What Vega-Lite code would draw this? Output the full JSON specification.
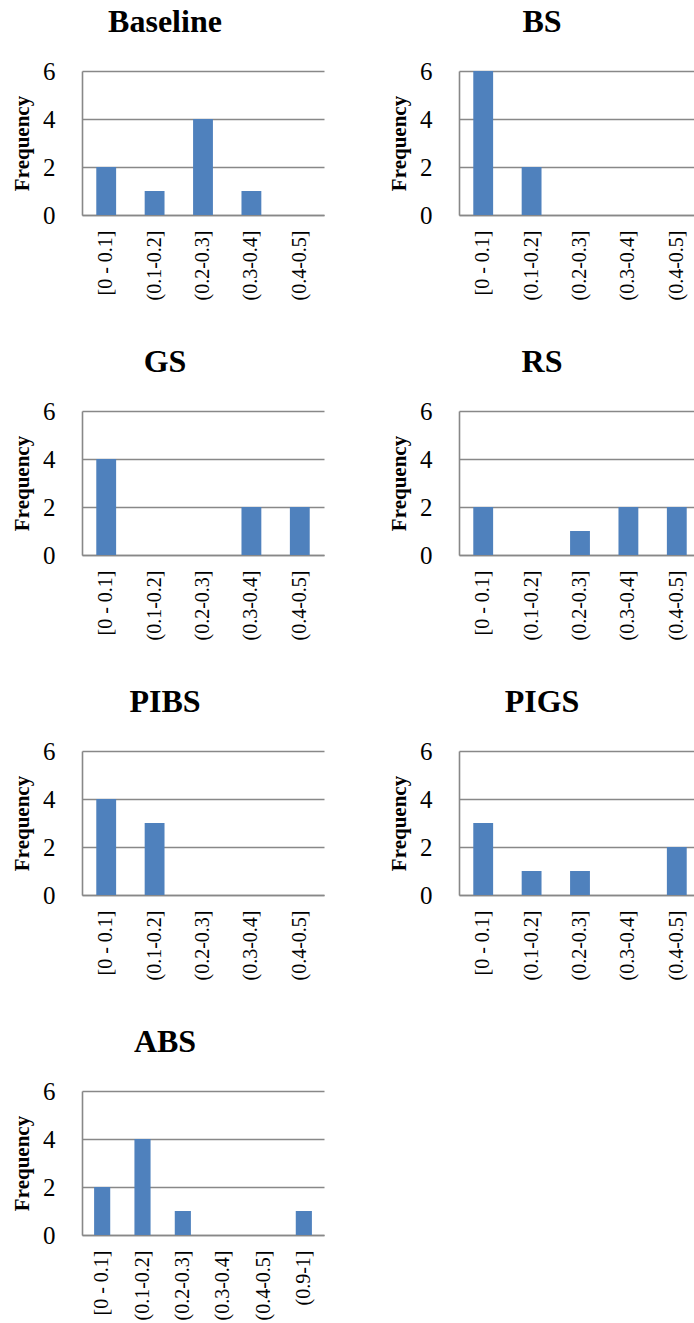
{
  "$schema": "https://vega.github.io/schema/vega-lite/v6.json",
  "background": "white",
  "padding": {"left": 11, "top": 6, "right": 0, "bottom": 0},
  "bounds": "flush",
  "columns": 2,
  "spacing": {"column": 135, "row": 196},
  "data": {
    "values": [
      {"panel": "Baseline", "bin": "[0 - 0.1]", "count": 2},
      {"panel": "Baseline", "bin": "(0.1-0.2]", "count": 1},
      {"panel": "Baseline", "bin": "(0.2-0.3]", "count": 4},
      {"panel": "Baseline", "bin": "(0.3-0.4]", "count": 1},
      {"panel": "Baseline", "bin": "(0.4-0.5]", "count": 0},
      {"panel": "BS", "bin": "[0 - 0.1]", "count": 6},
      {"panel": "BS", "bin": "(0.1-0.2]", "count": 2},
      {"panel": "BS", "bin": "(0.2-0.3]", "count": 0},
      {"panel": "BS", "bin": "(0.3-0.4]", "count": 0},
      {"panel": "BS", "bin": "(0.4-0.5]", "count": 0},
      {"panel": "GS", "bin": "[0 - 0.1]", "count": 4},
      {"panel": "GS", "bin": "(0.1-0.2]", "count": 0},
      {"panel": "GS", "bin": "(0.2-0.3]", "count": 0},
      {"panel": "GS", "bin": "(0.3-0.4]", "count": 2},
      {"panel": "GS", "bin": "(0.4-0.5]", "count": 2},
      {"panel": "RS", "bin": "[0 - 0.1]", "count": 2},
      {"panel": "RS", "bin": "(0.1-0.2]", "count": 0},
      {"panel": "RS", "bin": "(0.2-0.3]", "count": 1},
      {"panel": "RS", "bin": "(0.3-0.4]", "count": 2},
      {"panel": "RS", "bin": "(0.4-0.5]", "count": 2},
      {"panel": "PIBS", "bin": "[0 - 0.1]", "count": 4},
      {"panel": "PIBS", "bin": "(0.1-0.2]", "count": 3},
      {"panel": "PIBS", "bin": "(0.2-0.3]", "count": 0},
      {"panel": "PIBS", "bin": "(0.3-0.4]", "count": 0},
      {"panel": "PIBS", "bin": "(0.4-0.5]", "count": 0},
      {"panel": "PIGS", "bin": "[0 - 0.1]", "count": 3},
      {"panel": "PIGS", "bin": "(0.1-0.2]", "count": 1},
      {"panel": "PIGS", "bin": "(0.2-0.3]", "count": 1},
      {"panel": "PIGS", "bin": "(0.3-0.4]", "count": 0},
      {"panel": "PIGS", "bin": "(0.4-0.5]", "count": 2},
      {"panel": "ABS", "bin": "[0 - 0.1]", "count": 2},
      {"panel": "ABS", "bin": "(0.1-0.2]", "count": 4},
      {"panel": "ABS", "bin": "(0.2-0.3]", "count": 1},
      {"panel": "ABS", "bin": "(0.3-0.4]", "count": 0},
      {"panel": "ABS", "bin": "(0.4-0.5]", "count": 0},
      {"panel": "ABS", "bin": "(0.9-1]", "count": 1}
    ]
  },
  "concat": [
    {
      "title": "Baseline",
      "width": 242, "height": 144,
      "transform": [{"filter": "datum.panel === 'Baseline'"}],
      "mark": {"type": "bar", "color": "#4F81BD"},
      "encoding": {
        "x": {"field": "bin", "type": "nominal", "title": null,
              "scale": {"domain": ["[0 - 0.1]", "(0.1-0.2]", "(0.2-0.3]", "(0.3-0.4]", "(0.4-0.5]"], "paddingInner": 0.59, "paddingOuter": 0.295}},
        "y": {"field": "count", "type": "quantitative", "title": "Frequency",
              "scale": {"domain": [0, 6], "nice": false}}
      }
    },
    {
      "title": "BS",
      "width": 242, "height": 144,
      "transform": [{"filter": "datum.panel === 'BS'"}],
      "mark": {"type": "bar", "color": "#4F81BD"},
      "encoding": {
        "x": {"field": "bin", "type": "nominal", "title": null,
              "scale": {"domain": ["[0 - 0.1]", "(0.1-0.2]", "(0.2-0.3]", "(0.3-0.4]", "(0.4-0.5]"], "paddingInner": 0.59, "paddingOuter": 0.295}},
        "y": {"field": "count", "type": "quantitative", "title": "Frequency",
              "scale": {"domain": [0, 6], "nice": false}}
      }
    },
    {
      "title": "GS",
      "width": 242, "height": 144,
      "transform": [{"filter": "datum.panel === 'GS'"}],
      "mark": {"type": "bar", "color": "#4F81BD"},
      "encoding": {
        "x": {"field": "bin", "type": "nominal", "title": null,
              "scale": {"domain": ["[0 - 0.1]", "(0.1-0.2]", "(0.2-0.3]", "(0.3-0.4]", "(0.4-0.5]"], "paddingInner": 0.59, "paddingOuter": 0.295}},
        "y": {"field": "count", "type": "quantitative", "title": "Frequency",
              "scale": {"domain": [0, 6], "nice": false}}
      }
    },
    {
      "title": "RS",
      "width": 242, "height": 144,
      "transform": [{"filter": "datum.panel === 'RS'"}],
      "mark": {"type": "bar", "color": "#4F81BD"},
      "encoding": {
        "x": {"field": "bin", "type": "nominal", "title": null,
              "scale": {"domain": ["[0 - 0.1]", "(0.1-0.2]", "(0.2-0.3]", "(0.3-0.4]", "(0.4-0.5]"], "paddingInner": 0.59, "paddingOuter": 0.295}},
        "y": {"field": "count", "type": "quantitative", "title": "Frequency",
              "scale": {"domain": [0, 6], "nice": false}}
      }
    },
    {
      "title": "PIBS",
      "width": 242, "height": 144,
      "transform": [{"filter": "datum.panel === 'PIBS'"}],
      "mark": {"type": "bar", "color": "#4F81BD"},
      "encoding": {
        "x": {"field": "bin", "type": "nominal", "title": null,
              "scale": {"domain": ["[0 - 0.1]", "(0.1-0.2]", "(0.2-0.3]", "(0.3-0.4]", "(0.4-0.5]"], "paddingInner": 0.59, "paddingOuter": 0.295}},
        "y": {"field": "count", "type": "quantitative", "title": "Frequency",
              "scale": {"domain": [0, 6], "nice": false}}
      }
    },
    {
      "title": "PIGS",
      "width": 242, "height": 144,
      "transform": [{"filter": "datum.panel === 'PIGS'"}],
      "mark": {"type": "bar", "color": "#4F81BD"},
      "encoding": {
        "x": {"field": "bin", "type": "nominal", "title": null,
              "scale": {"domain": ["[0 - 0.1]", "(0.1-0.2]", "(0.2-0.3]", "(0.3-0.4]", "(0.4-0.5]"], "paddingInner": 0.59, "paddingOuter": 0.295}},
        "y": {"field": "count", "type": "quantitative", "title": "Frequency",
              "scale": {"domain": [0, 6], "nice": false}}
      }
    },
    {
      "title": "ABS",
      "width": 242, "height": 144,
      "transform": [{"filter": "datum.panel === 'ABS'"}],
      "mark": {"type": "bar", "color": "#4F81BD"},
      "encoding": {
        "x": {"field": "bin", "type": "nominal", "title": null,
              "scale": {"domain": ["[0 - 0.1]", "(0.1-0.2]", "(0.2-0.3]", "(0.3-0.4]", "(0.4-0.5]", "(0.9-1]"], "paddingInner": 0.6, "paddingOuter": 0.3}},
        "y": {"field": "count", "type": "quantitative", "title": "Frequency",
              "scale": {"domain": [0, 6], "nice": false}}
      }
    }
  ],
  "config": {
    "font": "Liberation Serif",
    "view": {"stroke": null},
    "title": {"font": "Liberation Serif", "fontSize": 32, "fontWeight": "bold", "color": "black", "anchor": "middle", "frame": "group", "dx": -38, "offset": 20},
    "axis": {"domainColor": "#888888", "domainWidth": 1.6, "ticks": false, "labelColor": "black", "labelFont": "Liberation Serif"},
    "axisX": {"labelAngle": -90, "labelFont": "Liberation Serif", "labelFontSize": 20, "labelPadding": 15, "grid": false, "labelBaseline": "middle", "labelAlign": "right"},
    "axisY": {"values": [0, 2, 4, 6], "labelFont": "Liberation Serif", "labelFontSize": 25, "labelPadding": 27, "grid": true, "gridColor": "#888888", "gridWidth": 1.6,
              "titleFont": "Liberation Serif", "titleFontSize": 21, "titleFontWeight": "bold", "titleColor": "black", "titlePadding": 10}
  }
}
